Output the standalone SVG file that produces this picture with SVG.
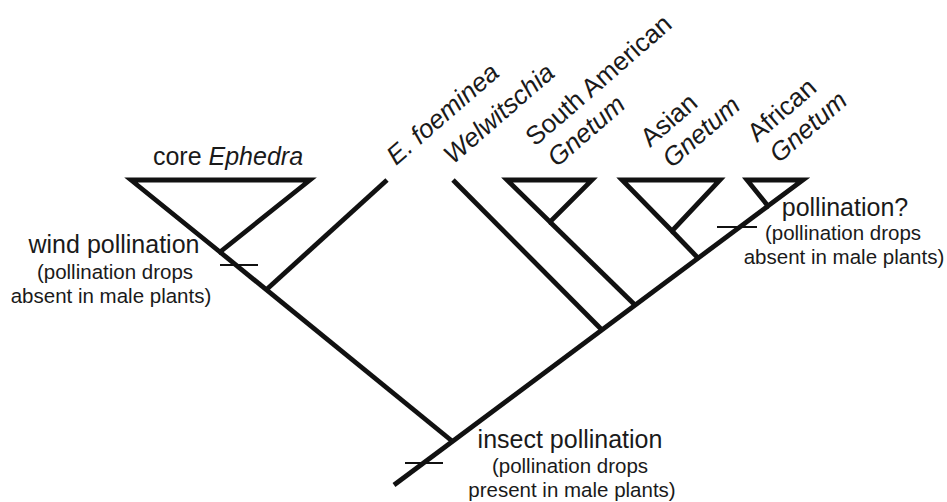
<svg xmlns="http://www.w3.org/2000/svg" width="947" height="502" viewBox="0 0 947 502">
<style>
.ln{fill:none;stroke:#111;stroke-width:4.8;stroke-linecap:butt;stroke-linejoin:miter}
.tk{fill:none;stroke:#111;stroke-width:2}
text{font-family:"Liberation Sans",Arial,sans-serif;fill:#1a1a1a}
.big{font-size:25px}
.sm{font-size:20.5px}
.rot{font-size:26px}
.it{font-style:italic}
.c{text-anchor:middle}
</style>
<rect width="947" height="502" fill="#fff"/>
<g id="connectors">
<path class="ln" d="M220,252 L452,441"/>
<path class="ln" d="M266,290 L387,180"/>
<path class="ln" d="M453,180 L602,330"/>
<path class="ln" d="M550,222 L635,305"/>
<path class="ln" d="M672,231 L698,258"/>
<path class="ln" d="M394,485 L768,206"/>
<path class="tk" d="M220,265 H258"/>
<path class="tk" d="M717,227 H757"/>
<path class="tk" d="M405,463 H443"/>
</g>
<g id="core-ephedra">
<path class="ln" d="M131,180 L310,180 L220,252 Z"/>
<text class="big c" x="228" y="165">core <tspan class="it">Ephedra</tspan></text>
</g>
<g id="e-foeminea">
<text class="rot it" transform="translate(396,166) rotate(-41)">E. foeminea</text>
</g>
<g id="welwitschia">
<text class="rot it" transform="translate(453,165) rotate(-41)">Welwitschia</text>
</g>
<g id="south-american-gnetum">
<path class="ln" d="M507,180 L592,180 L550,222 Z"/>
<text class="rot" transform="translate(535,147) rotate(-41)">South American<tspan class="it" x="3" y="30">Gnetum</tspan></text>
</g>
<g id="asian-gnetum">
<path class="ln" d="M622,180 L720,180 L672,231 Z"/>
<text class="rot" transform="translate(650,148) rotate(-41)">Asian<tspan class="it" x="3" y="30">Gnetum</tspan></text>
</g>
<g id="african-gnetum">
<path class="ln" d="M747,180 L803,180 L768,206 Z"/>
<text class="rot" transform="translate(757,143) rotate(-41)">African<tspan class="it" x="3" y="30">Gnetum</tspan></text>
</g>
<g id="wind-pollination">
<text class="big c" x="114" y="253">wind pollination</text>
<text class="sm c" x="115" y="279">(pollination drops</text>
<text class="sm c" x="111" y="303">absent in male plants)</text>
</g>
<g id="pollination-q">
<text class="big c" x="845" y="216">pollination?</text>
<text class="sm c" x="843" y="240">(pollination drops</text>
<text class="sm c" x="844" y="264">absent in male plants)</text>
</g>
<g id="insect-pollination">
<text class="big c" x="570" y="448">insect pollination</text>
<text class="sm c" x="570" y="473">(pollination drops</text>
<text class="sm c" x="572" y="497">present in male plants)</text>
</g>
</svg>
